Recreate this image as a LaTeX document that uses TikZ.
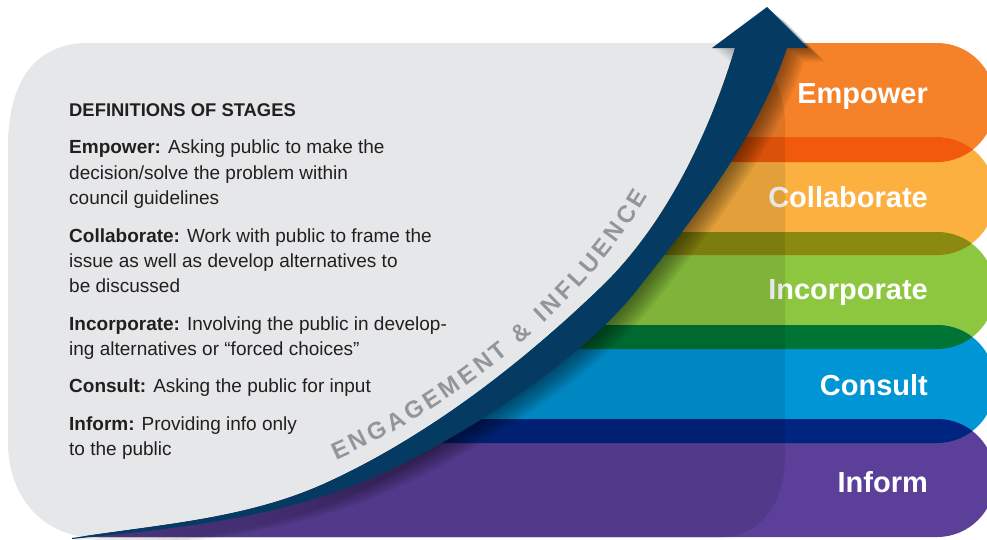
\documentclass[tikz,border=0pt]{standalone}
\usepackage{fontspec}
\setmainfont{Liberation Sans}
\usetikzlibrary{decorations.text}

\definecolor{cEmp}{HTML}{F58228}
\definecolor{cCol}{HTML}{FBB040}
\definecolor{cInc}{HTML}{8DC63F}
\definecolor{cCon}{HTML}{0095D5}
\definecolor{cInf}{HTML}{5B3F99}
\definecolor{ovEC}{HTML}{F15A0A}
\definecolor{ovCI}{HTML}{8B8910}
\definecolor{ovIC}{HTML}{007435}
\definecolor{ovCF}{HTML}{002580}
\definecolor{panelgrey}{HTML}{E6E7E8}
\definecolor{navy}{HTML}{053A63}
\definecolor{bodytext}{HTML}{231F20}
\definecolor{wavegrey}{HTML}{939598}

% the rising arrow: head, right edge down to the tail, left edge back up
\newcommand\navyarrow[1]{%
  \fill[#1] (767,7) -- (808,48) -- (787,48)
    .. controls (757,138) and (696,215) .. (637,290)
    .. controls (575,369) and (425,463) .. (330,494)
    .. controls (245,522) and (161,530) .. (72,539)
    -- (72,538)
    .. controls (161,524) and (249,519) .. (330,481)
    .. controls (429,435) and (521,364) .. (600,288)
    .. controls (665,226) and (709,134) .. (735,48)
    -- (712,48) -- cycle;}

\begin{document}
\begin{tikzpicture}[x=1pt,y=-1pt,
  band/.style={rounded corners=58pt},
  stagelabel/.style={anchor=base east,inner sep=0pt,text=white,
    font=\fontsize{29}{29}\selectfont\bfseries},
  deftext/.style={anchor=base west,inner sep=0pt,text=bodytext,
    font=\fontsize{19}{25}\selectfont},
  deftitle/.style={deftext,font=\fontsize{18.4}{25}\selectfont\bfseries}]

\useasboundingbox (0,0) rectangle (987,539);

% stage bands
\fill[cEmp,band] (40,43)  rectangle (995,162);
\fill[cCol,band] (40,137) rectangle (995,255);
\fill[cInc,band] (40,232) rectangle (995,349);
\fill[cCon,band] (40,325) rectangle (995,443);
\fill[cInf,band] (40,419) rectangle (995,537);

% where two bands overlap the colours multiply
\begin{scope}
  \clip[band] (40,43) rectangle (995,162);
  \fill[ovEC,band] (40,137) rectangle (995,255);
\end{scope}
\begin{scope}
  \clip[band] (40,137) rectangle (995,255);
  \fill[ovCI,band] (40,232) rectangle (995,349);
\end{scope}
\begin{scope}
  \clip[band] (40,232) rectangle (995,349);
  \fill[ovIC,band] (40,325) rectangle (995,443);
\end{scope}
\begin{scope}
  \clip[band] (40,325) rectangle (995,443);
  \fill[ovCF,band] (40,419) rectangle (995,537);
\end{scope}

% stage names
\node[stagelabel] (lEmp) at (928,103) {Empower};
\node[stagelabel] (lCol) at (928,207) {Collaborate};
\node[stagelabel] (lInc) at (928,299) {Incorporate};
\node[stagelabel] (lCon) at (928,395) {Consult};
\node[stagelabel] (lInf) at (928,492) {Inform};

% translucent panel laid over the bands
\fill[black,opacity=0.094]
  (90,43) -- (715,43) .. controls (760,43) and (785,80) .. (785,125)
  -- (785,455) .. controls (785,505) and (760,538) .. (715,538)
  -- (100,538) .. controls (45,538) and (8,500) .. (8,440)
  -- (8,150) .. controls (8,80) and (35,43) .. (90,43) -- cycle;

% opaque part of the panel, left of the arrow
\begin{scope}
  \clip (90,43) -- (715,43) .. controls (760,43) and (785,80) .. (785,125)
    -- (785,455) .. controls (785,505) and (760,538) .. (715,538)
    -- (100,538) .. controls (45,538) and (8,500) .. (8,440)
    -- (8,150) .. controls (8,80) and (35,43) .. (90,43) -- cycle;
  \fill[panelgrey] (-5,-5) -- (745,-5) -- (745,43) -- (735,48)
    .. controls (709,134) and (665,226) .. (600,288)
    .. controls (521,364) and (429,435) .. (330,481)
    .. controls (249,519) and (161,524) .. (72,538)
    -- (72,560) -- (-5,560) -- cycle;
\end{scope}

% soft shadow of the arrow
\foreach \i in {1,...,9}{
  \navyarrow{black,opacity=0.055,shift={(1.9*\i,1.5*\i)}}
}
\navyarrow{navy}

% label running along the arrow
\path[decorate,decoration={text along path,
    text={|\fontsize{24}{24}\selectfont\bfseries|ENGAGEMENT {\&} INFLUENCE},
    text color=wavegrey, text align={fit to path}}]
  (336,460) .. controls (450,410) and (580,312) .. (648,196);

% definitions
\node[deftitle] (dTitle) at (69,116) {DEFINITIONS OF STAGES};
\node[deftext] (dEmp1) at (69,153) {\textbf{Empower:} Asking public to make the};
\node[deftext] (dEmp2) at (69,179) {decision/solve the problem within};
\node[deftext] (dEmp3) at (69,204) {council guidelines};
\node[deftext] (dCol1) at (69,242) {\textbf{Collaborate:} Work with public to frame the};
\node[deftext] (dCol2) at (69,267) {issue as well as develop alternatives to};
\node[deftext] (dCol3) at (69,292) {be discussed};
\node[deftext] (dInc1) at (69,330) {\textbf{Incorporate:} Involving the public in develop-};
\node[deftext] (dInc2) at (69,355) {ing alternatives or “forced choices”};
\node[deftext] (dCon1) at (69,392) {\textbf{Consult:} Asking the public for input};
\node[deftext] (dInf1) at (69,430) {\textbf{Inform:} Providing info only};
\node[deftext] (dInf2) at (69,455) {to the public};

\end{tikzpicture}
\end{document}
